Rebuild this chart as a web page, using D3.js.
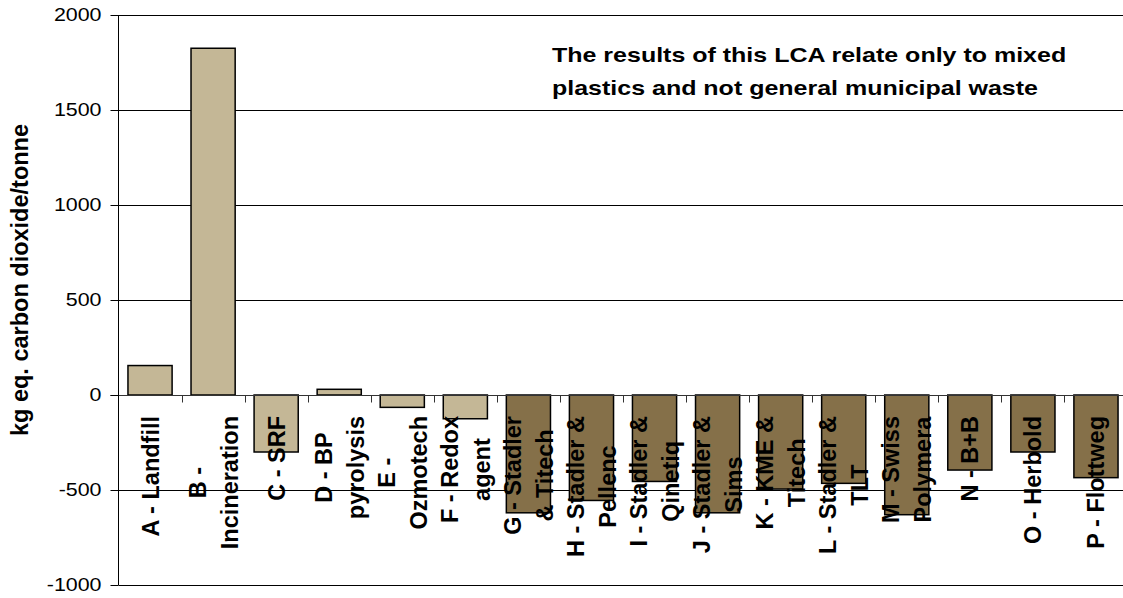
<!DOCTYPE html>
<html>
<head>
<meta charset="utf-8">
<script src="https://cdn.jsdelivr.net/npm/d3@7"></script>
<style>
  html, body { margin: 0; padding: 0; background: #ffffff; }
  svg { display: block; font-family: "Liberation Sans", Arial, sans-serif; }
</style>
</head>
<body>
<svg id="chart" width="1123" height="598"></svg>
<script>
// ---- data ----
const categories = ["A","B","C","D","E","F","G","H","I","J","K","L","M","N","O","P"];
const categoryLabels = [
  ["A - Landfill"],
  ["B -", "Incineration"],
  ["C - SRF"],
  ["D - BP", "pyrolysis"],
  ["E -", "Ozmotech"],
  ["F - Redox", "agent"],
  ["G - Stadler", "& Titech"],
  ["H - Stadler &", "Pellenc"],
  ["I - Stadler &", "Qinetiq"],
  ["J - Stadler &", "Sims"],
  ["K - KME &", "Titech"],
  ["L - Stadler &", "TLT"],
  ["M - Swiss", "Polymera"],
  ["N - B+B"],
  ["O - Herbold"],
  ["P - Flottweg"]
];
const values = [155, 1825, -300, 30, -65, -125, -620, -555, -455, -620, -495, -465, -630, -395, -300, -435];
const groups = ["light","light","light","light","light","light","dark","dark","dark","dark","dark","dark","dark","dark","dark","dark"];
const yTicks = [2000, 1500, 1000, 500, 0, -500, -1000];
const yTitle = "kg eq. carbon dioxide/tonne";
const noteLines = ["The results of this LCA relate only to mixed", "plastics and not general municipal waste"];

(function draw() {
  const svg = d3.select("#chart");
  const pLeft = 118.5, pTop = 15, pBottom = 585, pRight = 1127.5;
  const x = d3.scaleBand().domain(categories).range([pLeft, pRight]).paddingInner(0.3).paddingOuter(0.15);
  const y = d3.scaleLinear().domain([-1000, 2000]).range([pBottom, pTop]);
  const color = d3.scaleOrdinal().domain(["light","dark"]).range(["#C4B796", "#857049"]);
  const sx = 1.19;

  // gridlines
  svg.append("g").selectAll("line").data(yTicks.filter(d => d !== 0)).join("line")
    .attr("x1", pLeft).attr("x2", pRight)
    .attr("y1", d => Math.round(y(d)) + 0.5).attr("y2", d => Math.round(y(d)) + 0.5)
    .attr("stroke", "#000").attr("stroke-width", 1);

  // bars
  svg.append("g").selectAll("rect").data(values).join("rect")
    .attr("x", (d, i) => x(categories[i]))
    .attr("width", x.bandwidth())
    .attr("y", d => y(Math.max(0, d)))
    .attr("height", d => Math.abs(y(d) - y(0)))
    .attr("fill", (d, i) => color(groups[i]))
    .attr("stroke", "#000").attr("stroke-width", 1.5);

  // zero axis line
  const y0 = Math.round(y(0)) + 0.5;
  svg.append("line").attr("x1", pLeft - 8).attr("x2", pRight).attr("y1", y0).attr("y2", y0)
    .attr("stroke", "#333").attr("stroke-width", 1);

  // x tick marks at category boundaries
  const step = x.step();
  const bounds = d3.range(1, categories.length).map(i => x(categories[i]) - x.paddingInner() * step / 2);
  svg.append("g").selectAll("line").data(bounds).join("line")
    .attr("x1", d => Math.round(d) + 0.5).attr("x2", d => Math.round(d) + 0.5)
    .attr("y1", y0).attr("y2", y0 + 7)
    .attr("stroke", "#333").attr("stroke-width", 1);

  // y axis
  svg.append("line").attr("x1", pLeft).attr("x2", pLeft).attr("y1", pTop).attr("y2", pBottom)
    .attr("stroke", "#000").attr("stroke-width", 1);
  svg.append("g").selectAll("line").data(yTicks).join("line")
    .attr("x1", pLeft - 8).attr("x2", pLeft)
    .attr("y1", d => Math.round(y(d)) + 0.5).attr("y2", d => Math.round(y(d)) + 0.5)
    .attr("stroke", "#000").attr("stroke-width", 1);
  svg.append("g").selectAll("text").data(yTicks).join("text")
    .attr("transform", d => `translate(${pLeft - 17},${y(d)}) scale(${sx},1)`)
    .attr("dy", "0.33em")
    .attr("text-anchor", "end")
    .attr("font-size", 18)
    .attr("fill", "#000")
    .text(d => d);

  // y title
  svg.append("text")
    .attr("transform", `translate(28,280) rotate(-90)`)
    .attr("text-anchor", "middle")
    .attr("font-size", 23.5)
    .attr("font-weight", "bold")
    .attr("fill", "#000")
    .text(yTitle);

  // x category labels (rotated, wrapped)
  const labFont = 23.5, lineH = 32, labTop = 416;
  const labG = svg.append("g").attr("font-size", labFont).attr("font-weight", "bold").attr("fill", "#000");
  categoryLabels.forEach((lines, i) => {
    const g = labG.append("g");
    const t = g.selectAll("text").data(lines).join("text")
      .attr("text-anchor", "middle")
      .attr("y", (d, j) => (j - (lines.length - 1) / 2) * lineH + 0.36 * labFont)
      .text(d => d);
    let maxLen = 0;
    t.each(function() { maxLen = Math.max(maxLen, this.getComputedTextLength()); });
    const cx = x(categories[i]) + x.bandwidth() / 2;
    g.attr("transform", `translate(${cx},${labTop + maxLen / 2}) rotate(-90)`);
  });

  // annotation
  svg.append("g").selectAll("text").data(noteLines).join("text")
    .attr("transform", (d, i) => `translate(552,${62 + i * 33}) scale(${sx},1)`)
    .attr("font-size", 21)
    .attr("font-weight", "bold")
    .attr("fill", "#000")
    .text(d => d);
})();
</script>
</body>
</html>
